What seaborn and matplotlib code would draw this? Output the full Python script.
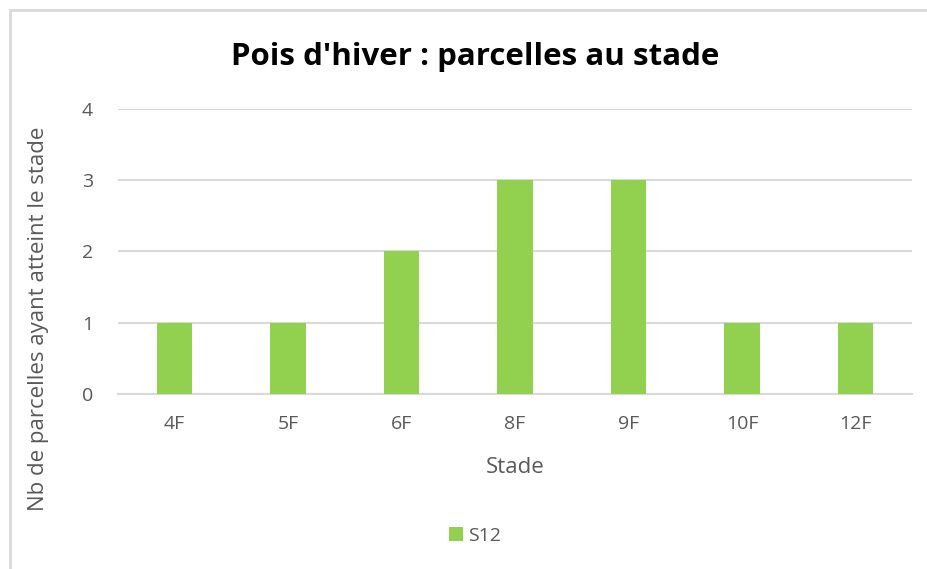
import pandas as pd
import matplotlib
matplotlib.use("Agg")
import matplotlib.pyplot as plt
import seaborn as sns
from matplotlib.patches import Rectangle

# Data
stades = ["4F", "5F", "6F", "8F", "9F", "10F", "12F"]
parcelles = [1, 1, 2, 3, 3, 1, 1]
serie = "S12"

df = pd.DataFrame({"Stade": stades, "Nb": parcelles, "Serie": serie})

sns.set_style("white")
plt.rcParams["font.family"] = ["Open Sans", "DejaVu Sans"]

fig = plt.figure(figsize=(9.28, 5.69), dpi=100)
ax = fig.add_axes([0.127, 0.3076, 0.856, 0.5008])

green = "#92D050"
grid_col = "#D9D9D9"
text_col = "#595959"

sns.barplot(data=df, x="Stade", y="Nb", hue="Serie", palette=[green],
            width=0.31, saturation=1, linewidth=0, ax=ax, zorder=3, legend=True)

ax.set_ylim(0, 4)
ax.set_xlim(-0.5, len(stades) - 0.5)
ax.set_yticks([0, 1, 2, 3, 4])
ax.yaxis.grid(True, color=grid_col, lw=1.5, zorder=0)
ax.set_axisbelow(True)
for s in ["top", "right", "left"]:
    ax.spines[s].set_visible(False)
ax.spines["bottom"].set_color(grid_col)
ax.spines["bottom"].set_linewidth(1.5)
ax.tick_params(axis="both", length=0, labelsize=14, labelcolor=text_col)
ax.tick_params(axis="x", pad=15)
ax.tick_params(axis="y", pad=18)

ax.set_xlabel("Stade", fontsize=16, color=text_col)
ax.xaxis.set_label_coords(0.5, -0.22)
ax.set_ylabel("Nb de parcelles ayant atteint le stade", fontsize=16,
              color=text_col, va="center")
ax.yaxis.set_label_coords(-0.1, 0.263)

fig.text(0.512, 0.90, "Pois d'hiver : parcelles au stade", fontsize=22.5,
         fontweight="bold", color="black", ha="center", va="center")

handles, labels = ax.get_legend_handles_labels()
ax.legend_.remove()
fig.legend(handles, labels, loc="center", bbox_to_anchor=(0.512, 0.058),
           frameon=False, fontsize=14, labelcolor=text_col, handlelength=0.7,
           handleheight=0.7, handletextpad=0.3)

# Chart frame (partially cropped in the reference)
fig.patches.append(Rectangle((10 / 928, -0.1), 1.2, 1 - 10 / 569 + 0.1,
                             transform=fig.transFigure, fill=False,
                             edgecolor=grid_col, lw=2))

fig.savefig("out.png", dpi=100)
